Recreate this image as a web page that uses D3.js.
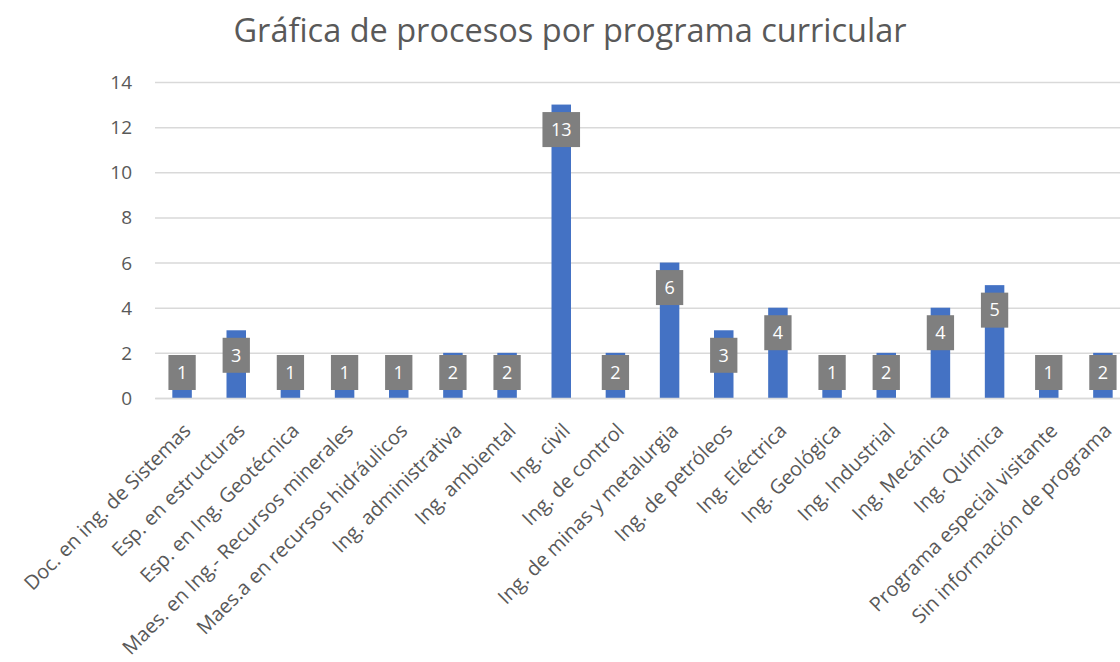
<!DOCTYPE html>
<html>
<head>
<meta charset="utf-8">
<script src="https://cdn.jsdelivr.net/npm/d3@7"></script>
<style>
  html, body { margin: 0; padding: 0; background: #fff; }
  svg { display: block; }
  svg text { font-family: "Open Sans", "Noto Sans", sans-serif; }
</style>
</head>
<body>
<svg id="chart" width="1120" height="662"></svg>
<script>
// Programas curriculares y número de procesos de cada uno
const categories = [
  "Doc. en ing. de Sistemas",
  "Esp. en estructuras",
  "Esp. en Ing. Geotécnica",
  "Maes. en Ing.- Recursos minerales",
  "Maes.a en recursos hidráulicos",
  "Ing. administrativa",
  "Ing. ambiental",
  "Ing. civil",
  "Ing. de control",
  "Ing. de minas y metalurgia",
  "Ing. de petróleos",
  "Ing. Eléctrica",
  "Ing. Geológica",
  "Ing. Industrial",
  "Ing. Mecánica",
  "Ing. Química",
  "Programa especial visitante",
  "Sin información de programa"
];
const values = [1, 3, 1, 1, 1, 2, 2, 13, 2, 6, 3, 4, 1, 2, 4, 5, 1, 2];
const yTicks = [0, 2, 4, 6, 8, 10, 12, 14];
const title = "Gráfica de procesos por programa curricular";

const svg = d3.select("#chart");
const textColor = "#595959";
const gridColor = "#d9d9d9";
const barColor = "#4472c4";
const labelFill = "#7f7f7f";

const plot = { left: 155, right: 1130, top: 82, bottom: 398 };

const x = d3.scaleBand()
  .domain(categories)
  .range([plot.left, plot.right])
  .paddingInner(0.64)
  .paddingOuter(0.32);

const y = d3.scaleLinear()
  .domain([0, 14])
  .range([plot.bottom, plot.top]);

// Title
svg.append("text")
  .attr("x", 570)
  .attr("y", 42)
  .attr("text-anchor", "middle")
  .attr("fill", textColor)
  .style("font-size", "32.5px")
  .text(title);

// Horizontal gridlines and value axis labels
const yAxis = d3.axisLeft(y)
  .tickValues(yTicks)
  .tickSize(-(plot.right - plot.left))
  .tickPadding(23)
  .tickFormat(d3.format("d"));

const gy = svg.append("g")
  .attr("transform", `translate(${plot.left},0)`)
  .call(yAxis)
  .attr("font-family", null);
gy.select(".domain").remove();
gy.selectAll(".tick line")
  .attr("stroke", gridColor)
  .attr("stroke-width", 1.5);
gy.selectAll(".tick text")
  .attr("fill", textColor)
  .style("font-size", "19px")
  .attr("dy", "0.34em");

// Bars
svg.append("g")
  .selectAll("rect")
  .data(values)
  .join("rect")
  .attr("x", (d, i) => x(categories[i]))
  .attr("width", x.bandwidth())
  .attr("y", d => y(d))
  .attr("height", d => y(0) - y(d))
  .attr("fill", barColor);

// Category axis labels, rotated
const gx = svg.append("g")
  .attr("transform", `translate(0,${plot.bottom})`)
  .call(d3.axisBottom(x).tickSize(0).tickPadding(0))
  .attr("font-family", null);
gx.select(".domain")
  .attr("stroke", gridColor)
  .attr("stroke-width", 1.5);
gx.selectAll(".tick text")
  .attr("fill", textColor)
  .style("font-size", "20px")
  .attr("text-anchor", "end")
  .attr("dy", 0)
  .attr("y", 0)
  .attr("transform", "translate(10,34) rotate(-45)");

// Value labels in gray boxes near the top of each bar
const labelH = 35;
const labelMaxTop = plot.bottom - 8 - labelH;
const lg = svg.append("g")
  .selectAll("g")
  .data(values)
  .join("g")
  .attr("transform", (d, i) => {
    const cx = x(categories[i]) + x.bandwidth() / 2;
    const top = Math.min(y(d) + 7.5, labelMaxTop);
    return `translate(${cx},${top})`;
  });

lg.append("text")
  .attr("text-anchor", "middle")
  .attr("y", labelH / 2)
  .attr("dy", "0.35em")
  .attr("fill", "#ffffff")
  .style("font-size", "18px")
  .text(d => d);

lg.each(function() {
  const g = d3.select(this);
  const w = g.select("text").node().getComputedTextLength() + 17;
  g.insert("rect", "text")
    .attr("x", -w / 2)
    .attr("width", w)
    .attr("height", labelH)
    .attr("fill", labelFill);
});
</script>
</body>
</html>
